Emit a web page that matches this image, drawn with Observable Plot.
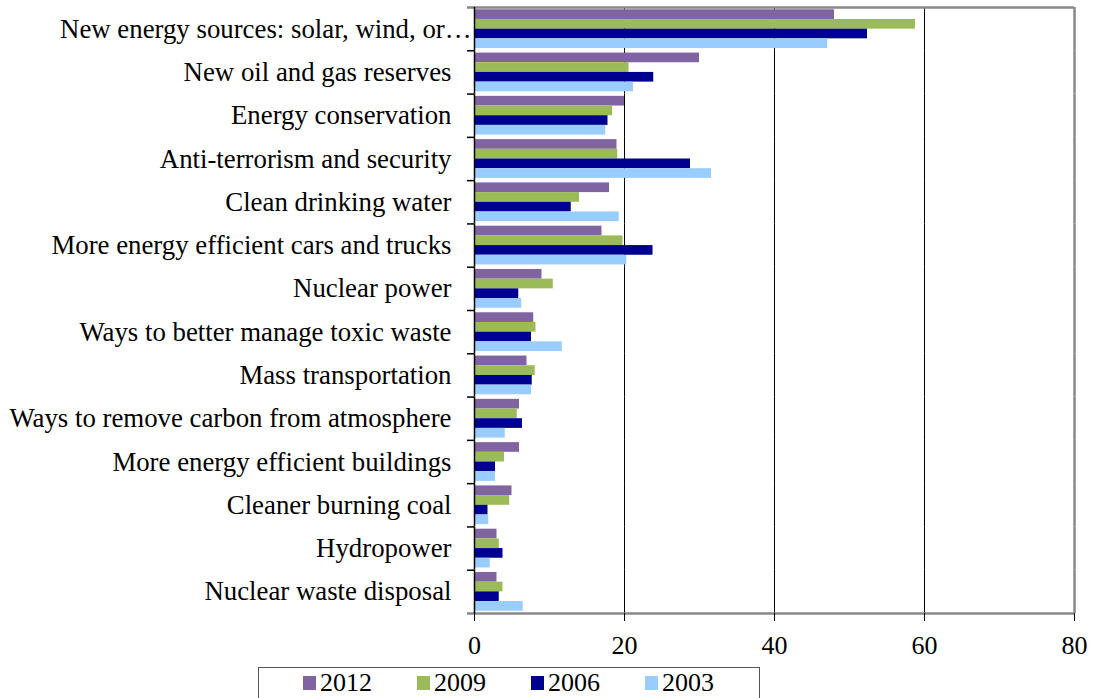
<!DOCTYPE html>
<html><head><meta charset="utf-8">
<script src="https://cdn.jsdelivr.net/npm/d3@7"></script>
<script src="https://cdn.jsdelivr.net/npm/@observablehq/plot@0.6"></script>
<style>
body{margin:0;background:#fff;font-family:"Liberation Serif","Times New Roman",serif;}
#wrap{position:relative;width:1093px;height:698px;overflow:hidden;background:#fff}
#wrap svg{display:block}
#legend{position:absolute;left:258px;top:667px;width:502px;height:40px;border:1px solid #555;box-sizing:border-box;display:flex;padding-left:44px;padding-top:0px;font-family:"Liberation Serif","Times New Roman",serif;font-size:26px;color:#000}
.item{display:flex;align-items:center;width:117px;height:30px}
.sw{width:13px;height:14px;margin-right:4px}
</style></head><body><div id="wrap"></div>
<script>
const categories = [
  "New energy sources: solar, wind, or…",
  "New oil and gas reserves",
  "Energy conservation",
  "Anti-terrorism and security",
  "Clean drinking water",
  "More energy efficient cars and trucks",
  "Nuclear power",
  "Ways to better manage toxic waste",
  "Mass transportation",
  "Ways to remove carbon from atmosphere",
  "More energy efficient buildings",
  "Cleaner burning coal",
  "Hydropower",
  "Nuclear waste disposal"
];
const years = ["2012", "2009", "2006", "2003"];
const colors = ["#8064A2", "#9BBB59", "#000090", "#99CCFF"];
const v2012 = [48.0, 30.0, 20.0, 19.0, 18.0, 17.0, 9.0, 7.9, 7.0, 6.0, 6.0, 5.0, 3.0, 3.0];
const v2009 = [58.8, 20.6, 18.4, 19.1, 14.0, 19.8, 10.5, 8.2, 8.1, 5.7, 4.0, 4.7, 3.3, 3.8];
const v2006 = [52.4, 23.9, 17.8, 28.8, 12.9, 23.8, 5.9, 7.6, 7.7, 6.4, 2.8, 1.8, 3.8, 3.3];
const v2003 = [47.1, 21.2, 17.5, 31.6, 19.3, 20.3, 6.3, 11.7, 7.6, 4.1, 2.8, 1.9, 2.1, 6.5];
const xTicks = [0, 20, 40, 60, 80];

const series = [v2012, v2009, v2006, v2003];
const rows = categories.flatMap((c, i) => years.map((y, j) => ({category: c, year: y, value: series[j][i]})));

const W = 1093, H = 665, mTop = 7, mBottom = 52, mLeft = 474, mRight = 19;
const padOuter = 0.235;
const facetH = (H - mTop - mBottom) / categories.length;
const step = facetH / (years.length + 2 * padOuter);
const edge = padOuter * step + step / 2;
const font = '"Liberation Serif", "Times New Roman", serif';
const frameGray = "#888";

const chart = Plot.plot({
  width: W, height: H,
  marginTop: mTop, marginBottom: mBottom, marginLeft: mLeft, marginRight: mRight,
  style: {fontFamily: font, fontSize: "26px", color: "#000", background: "#fff", overflow: "visible"},
  x: {domain: [0, 80], label: null},
  y: {domain: years, paddingInner: 0, paddingOuter: padOuter, round: false, axis: null},
  fy: {domain: categories, padding: 0, round: false, axis: null},
  color: {domain: years, range: colors},
  marks: [
    Plot.ruleX([20, 40, 60], {stroke: "#000", strokeWidth: 1}),
    Plot.barX(rows, {fy: "category", y: "year", x: "value", fill: "year"}),
    Plot.ruleX([80], {stroke: frameGray, strokeWidth: 2.5}),
    Plot.ruleY([categories[0]], {fy: d => d, y: () => years[0], x1: 0, x2: 80, dy: -edge, insetLeft: -7, stroke: frameGray, strokeWidth: 2.5}),
    Plot.ruleY([categories[categories.length - 1]], {fy: d => d, y: () => years[years.length - 1], x1: 0, x2: 80, dy: edge, insetLeft: -7, stroke: frameGray, strokeWidth: 2.5}),
    Plot.ruleX([0], {stroke: "#000", strokeWidth: 1.5}),
    Plot.ruleY(categories.slice(1), {fy: d => d, y: () => years[0], x1: 0, x2: 0, dy: -edge, insetLeft: -7, stroke: "#000", strokeWidth: 1.5}),
    Plot.text(categories.slice(1), {fy: d => d, text: d => d, frameAnchor: "left", textAnchor: "end", dx: -23, fontSize: 26.8, fill: "#000"}),
    Plot.text([categories[0]], {fy: d => d, text: d => d, frameAnchor: "left", textAnchor: "end", dx: -3, fontSize: 26.8, fill: "#000"}),
    Plot.axisX({ticks: xTicks, tickSize: 8, tickPadding: 14, fontSize: 26, tickFormat: d => String(d), stroke: "#000", label: null})
  ]
});

const wrap = document.getElementById("wrap");
wrap.appendChild(chart);

const legend = document.createElement("div");
legend.id = "legend";
years.forEach((y, i) => {
  const item = document.createElement("div");
  item.className = "item";
  const sw = document.createElement("span");
  sw.className = "sw";
  sw.style.background = colors[i];
  const t = document.createElement("span");
  t.textContent = y;
  item.appendChild(sw);
  item.appendChild(t);
  legend.appendChild(item);
});
wrap.appendChild(legend);
</script></body></html>
